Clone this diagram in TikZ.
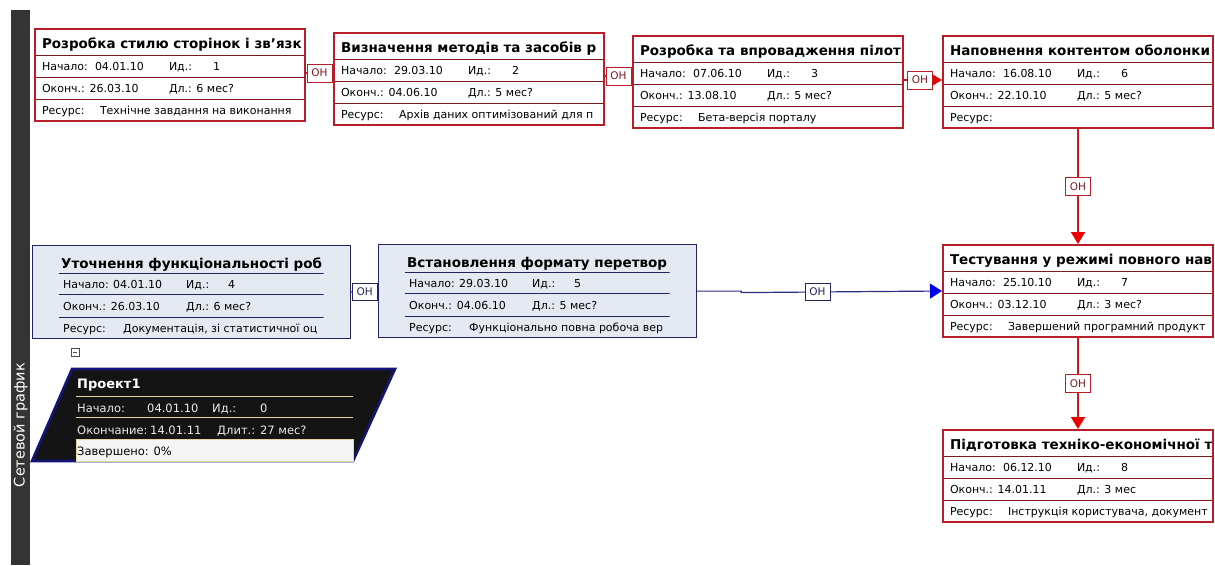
\documentclass[tikz,border=0pt]{standalone}
\usepackage{fontspec}
\setmainfont{DejaVu Sans}
\usetikzlibrary{positioning,arrows.meta}
\definecolor{boxred}{RGB}{185,30,40}
\definecolor{seprd}{RGB}{125,25,30}
\definecolor{linkred}{RGB}{205,25,25}
\definecolor{tipred}{RGB}{235,0,0}
\definecolor{navy}{RGB}{35,35,95}
\definecolor{boxblue}{RGB}{229,233,242}
\definecolor{linkblue}{RGB}{45,45,130}
\definecolor{tipblue}{RGB}{0,0,235}
\definecolor{cream}{RGB}{225,215,165}
\definecolor{projnavy}{RGB}{20,20,120}
\definecolor{sidegray}{RGB}{52,52,52}

\begin{document}
\begin{tikzpicture}[x=1pt, y=-1pt, >=latex,
  ttl/.style={font=\bfseries\fontsize{13.5}{15}\selectfont, inner sep=0pt, anchor=base west,
    minimum width=0pt, minimum height=0pt, draw=none, fill=none},
  cell/.style={font=\fontsize{11}{13}\selectfont, inner sep=0pt, anchor=base west,
    minimum width=0pt, minimum height=0pt, draw=none, fill=none},
  redtask/.style n args={6}{draw=boxred, line width=2pt, fill=white, minimum width=270pt,
    minimum height=92pt, inner sep=0pt, anchor=north west,
    path picture={
      \draw[seprd, line width=1pt] ([shift={(0,26)}]path picture bounding box.north west) -- ++(270,0)
        ([shift={(0,48)}]path picture bounding box.north west) -- ++(270,0)
        ([shift={(0,70)}]path picture bounding box.north west) -- ++(270,0);
      \node[ttl] at ([shift={(6,19)}]path picture bounding box.north west) {#1};
      \node[cell] at ([shift={(6,41)}]path picture bounding box.north west) {Начало:};
      \node[cell] at ([shift={(59,41)}]path picture bounding box.north west) {#2};
      \node[cell] at ([shift={(133,41)}]path picture bounding box.north west) {Ид.:};
      \node[cell] at ([shift={(177,41)}]path picture bounding box.north west) {#3};
      \node[cell] at ([shift={(6,63)}]path picture bounding box.north west) {Оконч.: #4};
      \node[cell] at ([shift={(133,63)}]path picture bounding box.north west) {Дл.: #5};
      \node[cell] at ([shift={(6,85)}]path picture bounding box.north west) {Ресурс:};
      \node[cell] at ([shift={(64,85)}]path picture bounding box.north west) {#6};
    }},
  bluetask/.style n args={6}{draw=navy, line width=1.2pt, fill=boxblue, minimum width=318pt,
    minimum height=93pt, inner sep=0pt, anchor=north west,
    path picture={
      \begin{scope}
        \clip (path picture bounding box.north west) rectangle ([shift={(291,93)}]path picture bounding box.north west);
        \draw[navy, line width=1.1pt] ([shift={(26,28)}]path picture bounding box.north west) -- ++(265,0)
          ([shift={(26,49)}]path picture bounding box.north west) -- ++(265,0)
          ([shift={(26,72)}]path picture bounding box.north west) -- ++(265,0);
        \node[ttl] at ([shift={(28,23)}]path picture bounding box.north west) {#1};
        \node[cell] at ([shift={(30,43)}]path picture bounding box.north west) {Начало:};
        \node[cell] at ([shift={(80,43)}]path picture bounding box.north west) {#2};
        \node[cell] at ([shift={(153,43)}]path picture bounding box.north west) {Ид.:};
        \node[cell] at ([shift={(195,43)}]path picture bounding box.north west) {#3};
        \node[cell] at ([shift={(30,65)}]path picture bounding box.north west) {Оконч.: #4};
        \node[cell] at ([shift={(153,65)}]path picture bounding box.north west) {Дл.: #5};
        \node[cell] at ([shift={(30,87)}]path picture bounding box.north west) {Ресурс:};
        \node[cell] at ([shift={(90,87)}]path picture bounding box.north west) {#6};
      \end{scope}
    }},
  ohred/.style={draw=boxred, line width=0.8pt, fill=white, text=seprd, inner sep=0pt,
    minimum width=25pt, minimum height=18pt, font=\fontsize{10.5}{12}\selectfont},
  ohblue/.style={draw=navy, line width=0.8pt, fill=white, text=navy, inner sep=0pt,
    minimum width=25pt, minimum height=17pt, font=\fontsize{10.5}{12}\selectfont},
  redlink/.style={draw=linkred, line width=1.8pt},
  bluelink/.style={draw=linkblue, line width=1.2pt},
  redtip/.style={-{Triangle[length=12pt, width=14pt, color=tipred, fill=tipred]}},
  bluetip/.style={-{Triangle[length=12pt, width=15pt, color=tipblue, fill=tipblue]}},
  projtxt/.style={font=\fontsize{11.5}{13}\selectfont, text=white!92!black, inner sep=0pt, anchor=base west}
]
\useasboundingbox (0,0) rectangle (1215,565);

\fill[sidegray] (11,10) rectangle (30,565);
\node[rotate=90, text=white, font=\fontsize{14.5}{16}\selectfont] (side) at (20.5,425) {Сетевой график};

\node[redtask={Розробка стилю сторінок і зв'язк}{04.01.10}{1}{26.03.10}{6 мес?}{Технічне завдання на виконання}] (t1) at (34,28) {};
\node[redtask={Визначення методів та засобів р}{29.03.10}{2}{04.06.10}{5 мес?}{Архів даних оптимізований для п}] (t2) at (333,32) {};
\node[redtask={Розробка та впровадження пілот}{07.06.10}{3}{13.08.10}{5 мес?}{Бета-версія порталу}] (t3) at (632,35) {};
\node[redtask={Наповнення контентом оболонки}{16.08.10}{6}{22.10.10}{5 мес?}{}] (t6) at (942,35) {};
\node[bluetask={Уточнення функціональності роб}{04.01.10}{4}{26.03.10}{6 мес?}{Документація, зі статистичної оц}] (t4) at (32,245) {};
\node[bluetask={Встановлення формату перетвор}{29.03.10}{5}{04.06.10}{5 мес?}{Функціонально повна робоча вер}] (t5) at (378,244) {};
\node[redtask={Тестування у режимі повного нав}{25.10.10}{7}{03.12.10}{3 мес?}{Завершений програмний продукт}] (t7) at (942,244) {};
\node[redtask={Підготовка техніко-економічної т}{06.12.10}{8}{14.01.11}{3 мес}{Інструкція користувача, документ}] (t8) at (942,429) {};

\draw[redlink] ([yshift=2pt]t1.east) -- node[ohred] {ОН} ([yshift=2pt]t1.east -| t2.west);
\draw[redlink] ([yshift=3pt]t2.east) -- node[ohred] {ОН} ([yshift=3pt]t2.east -| t3.west);
\draw[redlink, redtip] ([yshift=2pt]t3.east) -- node[ohred, pos=0.42] {ОН} ([yshift=2pt]t3.east -| t6.west);
\draw[redlink, redtip] (t6.south) -- node[ohred] {ОН} (t7.north);
\draw[redlink, redtip] (t7.south) -- node[ohred] {ОН} (t8.north);

\draw[bluelink] (t4.east) -- node[ohblue] {ОН} (t5.west);
\draw[bluelink, bluetip] (t5.east) -- ++(44,0) -- ++(0,1.5) -- node[ohblue, pos=0.38] {ОН} (t7.west);

\draw[draw=projnavy, line width=2.6pt, fill=black!92] (72,369) coordinate (pnw) -- (395,369) -- (353,461) -- (32,461) -- cycle;
\draw[black!70, line width=0.7pt, fill=white] (71,348) rectangle (79,356);
\draw[black!70, line width=0.8pt] (73,352) -- (77,352);
\draw[cream, line width=1pt] (76,396) -- (353,396) (76,417) -- (353,417);
\draw[cream, line width=1pt, fill=white!96!black] (76,439) rectangle (353,461);
\node[projtxt, font=\bfseries\fontsize{13}{15}\selectfont, text=white] (pttl) at (77,388) {Проект1};
\node[projtxt] (pst) at (77,412) {Начало:};
\node[projtxt] (pstv) at (147,412) {04.01.10};
\node[projtxt] (pid) at (212,412) {Ид.:};
\node[projtxt] (pidv) at (260,412) {0};
\node[projtxt] (pend) at (77,434) {Окончание:};
\node[projtxt] (pendv) at (150,434) {14.01.11};
\node[projtxt] (pdur) at (217,434) {Длит.: 27 мес?};
\node[projtxt, text=black] (pdone) at (77,455) {Завершено: 0\%};
\end{tikzpicture}
\end{document}
